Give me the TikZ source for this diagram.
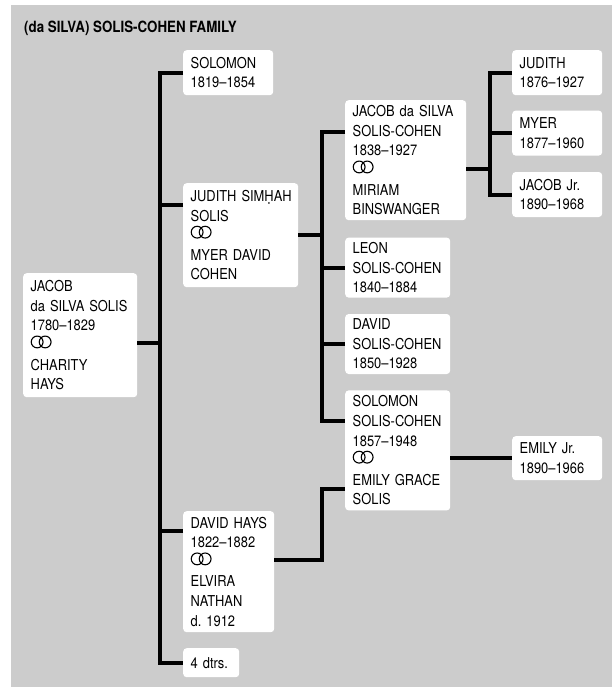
\documentclass[tikz,border=0pt]{standalone}
\usepackage{fontspec}
\setmainfont{TeX Gyre Heros}[FakeStretch=0.86]
\usetikzlibrary{positioning}

\definecolor{panel}{gray}{0.8}
\exhyphenpenalty=10000
\hyphenpenalty=10000

% marriage rings
\newcommand\rings{\tikz[baseline=0pt]\draw[line width=1.1pt, fill=none]
  (6.8pt,8.5pt) circle[radius=5.9pt] (14.8pt,8.5pt) circle[radius=5.9pt];}

\tikzset{
  person/.style={fill=white, rounded corners=3.5pt, align=left,
    anchor=north west, inner xsep=7.5pt, inner ysep=0pt,
    font=\fontsize{15}{19.6}\selectfont},
  link/.style={line width=4pt},
}

\begin{document}
\begin{tikzpicture}[x=1pt, y=-1pt]
    \useasboundingbox (0,0) rectangle (612,687);
    \fill[panel] (11,5) rectangle (612,687);

    \node[anchor=base west, inner sep=0pt,
      font=\fontsize{15.5}{18}\selectfont\bfseries] (title) at (24,33)
      {(da SILVA) SOLIS-COHEN FAMILY};

    % first generation
    \node[person, text width=99pt, minimum height=124pt] (jacob) at (23,273)
      {JACOB\\da~SILVA~SOLIS\\1780--1829\\\rings\\CHARITY\\HAYS};

    % children
    \node[person, text width=75pt, minimum height=45pt] (solomon) at (183,50)
      {SOLOMON\\1819--1854};
    \node[person, text width=100pt, minimum height=104pt] (judith) at (183,183)
      {JUDITH~SIMḤAH\\SOLIS\\\rings\\MYER~DAVID\\COHEN};
    \node[person, text width=76pt, minimum height=121pt] (davidhays) at (183,511)
      {DAVID~HAYS\\1822--1882\\\rings\\ELVIRA\\NATHAN\\d.~1912};
    \node[person, text width=41pt, minimum height=29pt] (dtrs) at (183,648)
      {4~dtrs.};

    % grandchildren
    \node[person, text width=106pt, minimum height=120pt] (jacobsc) at (345,100)
      {JACOB~da~SILVA\\SOLIS-COHEN\\1838--1927\\\rings\\MIRIAM\\BINSWANGER};
    \node[person, text width=90pt, minimum height=60pt,
      below right=17pt and 0pt of jacobsc.south west] (leon)
      {LEON\\SOLIS-COHEN\\1840--1884};
    \node[person, text width=90pt, minimum height=60pt,
      below right=16pt and 0pt of leon.south west] (davidsc)
      {DAVID\\SOLIS-COHEN\\1850--1928};
    \node[person, text width=90pt, minimum height=120pt,
      below right=16pt and 0pt of davidsc.south west] (solomonsc)
      {SOLOMON\\SOLIS-COHEN\\1857--1948\\\rings\\EMILY~GRACE\\SOLIS};

    % great-grandchildren
    \node[person, text width=75pt, minimum height=45pt] (judithb) at (512,50)
      {JUDITH\\1876--1927};
    \node[person, text width=75pt, minimum height=45pt,
      below right=15pt and 0pt of judithb.south west] (myer)
      {MYER\\1877--1960};
    \node[person, text width=75pt, minimum height=45pt,
      below right=16pt and 0pt of myer.south west] (jacobjr)
      {JACOB~Jr.\\1890--1968};
    \node[person, text width=75pt, minimum height=44pt] (emilyjr) at (512,436)
      {EMILY~Jr.\\1890--1966};

    % bus lines and branch points
    \coordinate (bus1) at (160,0);
    \coordinate (bus2) at (322,0);
    \coordinate (bus3) at (490,0);
    \coordinate (judith-in) at ([yshift=-22pt]judith.north west);
    \coordinate (jacob-out) at ([yshift=-8pt]jacob.east);
    \coordinate (davidhays-in) at ([yshift=-20pt]davidhays.north west);
    \coordinate (davidhays-out) at ([yshift=11.5pt]davidhays.east);
    \coordinate (jacobsc-in) at ([yshift=-32pt]jacobsc.north west);
    \coordinate (jacobsc-out) at ([yshift=-9pt]jacobsc.east);
    \coordinate (solomonsc-in) at ([yshift=-31pt]solomonsc.north west);
    \coordinate (solomonsc-low) at ([yshift=-99pt]solomonsc.north west);

    \draw[link] (solomon.west) -| (bus1 |- dtrs.west) -- (dtrs.west);
    \draw[link] (jacob-out) -- (jacob-out -| bus1);
    \draw[link] (judith-in) -- (judith-in -| bus1);
    \draw[link] (davidhays-in) -- (davidhays-in -| bus1);

    \draw[link] (judith.east) -- (judith.east -| bus2);
    \draw[link] (jacobsc-in) -| (bus2 |- solomonsc-in) -- (solomonsc-in);
    \draw[link] (leon.west) -- (leon.west -| bus2);
    \draw[link] (davidsc.west) -- (davidsc.west -| bus2);
    \draw[link] (davidhays-out) -| (bus2 |- solomonsc-low) -- (solomonsc-low);

    \draw[link] (jacobsc-out) -- (jacobsc-out -| bus3);
    \draw[link] (judithb.west) -| (bus3 |- jacobjr.west) -- (jacobjr.west);
    \draw[link] (myer.west) -- (myer.west -| bus3);
    \draw[link] (emilyjr.west -| solomonsc.east) -- (emilyjr.west);
\end{tikzpicture}
\end{document}
